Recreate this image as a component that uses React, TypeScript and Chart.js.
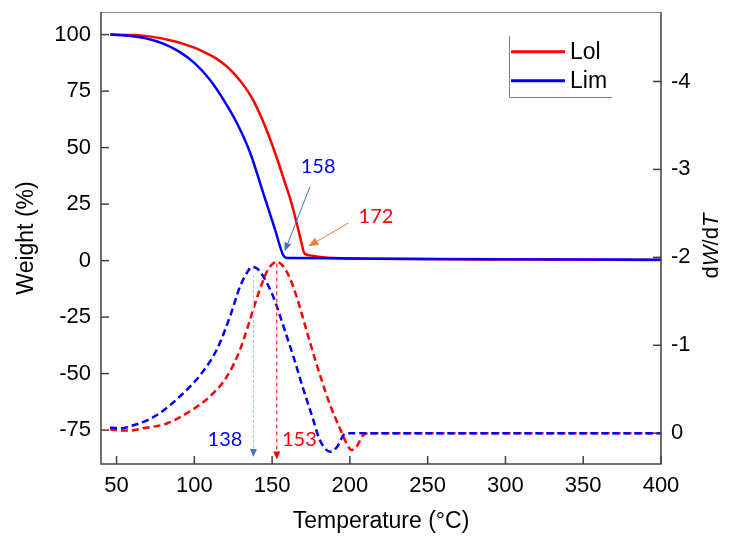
import React, { useEffect, useRef } from 'react';
import { Chart, registerables } from 'chart.js';
Chart.register(...registerables);

// ---- tick labels ----
const xTicks = [50, 100, 150, 200, 250, 300, 350, 400];
const weightTicks = [-75, -50, -25, 0, 25, 50, 75, 100];
const dtgTicks = [0, -1, -2, -3, -4];

// ---- series ----
const seriesNames = ['Lol', 'Lim'];

const lolTemp = [46, 60, 72, 85, 93, 100, 107, 114, 121, 127, 133, 138, 143, 148, 153, 158, 162, 166, 169, 170.5, 172.5, 176, 181, 190, 220, 300, 400];
const lolWeight = [100, 99.8, 99.1, 97.4, 95.9, 94.2, 92.0, 89.5, 85.8, 81.6, 76.3, 70.8, 63.5, 55.0, 45.5, 35.0, 26.5, 16.0, 7.5, 3.5, 2.6, 2.1, 1.6, 1.1, 0.8, 0.5, 0.3];

const limTemp = [46, 60, 70, 80, 90, 100, 110, 120, 128, 136, 144, 152, 157, 159.5, 165, 190, 250, 400];
const limWeight = [100, 99.3, 98.2, 96.0, 92.6, 87.5, 80.0, 69.8, 60.0, 47.5, 30.5, 13.5, 2.6, 1.2, 1.1, 1.0, 0.7, 0.4];

const lolDtgTemp = [45.8, 52.2, 58.6, 67.2, 82.3, 97.2, 110.1, 120.8, 129.4, 134.2, 141.2, 147, 150, 153, 157, 161.5, 165.8, 170, 174.4, 180.8, 187.3, 193.7, 198, 201, 204.4, 208.7, 213, 400];
const lolDtg = [-0.045, -0.03, -0.03, -0.057, -0.11, -0.25, -0.42, -0.64, -0.95, -1.2, -1.59, -1.85, -1.92, -1.95, -1.9, -1.76, -1.55, -1.3, -1.03, -0.66, -0.32, -0.05, 0.12, 0.19, 0.15, 0.02, 0, 0];

const limDtgTemp = [45.8, 52, 60.8, 70, 77.9, 90.8, 103.7, 114.4, 123, 129.4, 133.7, 137, 140.5, 144.4, 150.8, 157.2, 163.7, 170.1, 176.5, 180, 183, 187.3, 191.6, 195.9, 198, 400];
const limDtg = [-0.065, -0.055, -0.09, -0.15, -0.23, -0.42, -0.66, -0.95, -1.33, -1.67, -1.82, -1.89, -1.87, -1.78, -1.55, -1.22, -0.87, -0.5, -0.15, 0.05, 0.15, 0.21, 0.16, 0.02, 0, 0];

// ---- annotations (data coordinates) ----
const peakTemps = [153, 138]; // Lol, Lim (DTG peak)
const endTemps = [172, 158]; // Lol, Lim (end of mass loss)

const RED = '#FF0000';
const BLUE = '#0000FF';
const TICK_FONT = { family: '"Liberation Sans", Arial, sans-serif', size: 22 };
const TITLE_FONT = { family: '"Liberation Sans", Arial, sans-serif', size: 23 };
const NOTE_FONT = '20px Lato, "Open Sans", sans-serif';

const pts = (xs: number[], ys: number[]) => xs.map((x, i) => ({ x, y: ys[i] }));

function arrow(ctx: CanvasRenderingContext2D, x1: number, y1: number, x2: number, y2: number,
  lineColor: string, headColor: string, width: number, headLen: number, headW: number, dash: number[]) {
  ctx.save();
  const a = Math.atan2(y2 - y1, x2 - x1);
  const bx = x2 - headLen * Math.cos(a);
  const by = y2 - headLen * Math.sin(a);
  ctx.strokeStyle = lineColor;
  ctx.lineWidth = width;
  ctx.setLineDash(dash);
  ctx.beginPath();
  ctx.moveTo(x1, y1);
  ctx.lineTo(bx, by);
  ctx.stroke();
  ctx.setLineDash([]);
  ctx.fillStyle = headColor;
  ctx.beginPath();
  ctx.moveTo(x2, y2);
  ctx.lineTo(bx + (headW / 2) * Math.sin(a), by - (headW / 2) * Math.cos(a));
  ctx.lineTo(bx - (headW / 2) * Math.sin(a), by + (headW / 2) * Math.cos(a));
  ctx.closePath();
  ctx.fill();
  ctx.restore();
}

const framePlugin = {
  id: 'frame',
  afterDraw(chart: any) {
    const { ctx, chartArea: ca, scales } = chart;
    ctx.save();
    // inward tick marks
    ctx.strokeStyle = '#404040';
    ctx.lineWidth = 1.5;
    const L = 8;
    scales.x.ticks.forEach((t: any) => {
      const px = scales.x.getPixelForValue(t.value);
      ctx.beginPath(); ctx.moveTo(px, ca.bottom); ctx.lineTo(px, ca.bottom - L); ctx.stroke();
    });
    scales.y.ticks.forEach((t: any) => {
      const py = scales.y.getPixelForValue(t.value);
      ctx.beginPath(); ctx.moveTo(ca.left, py); ctx.lineTo(ca.left + L, py); ctx.stroke();
    });
    scales.y2.ticks.forEach((t: any) => {
      const py = scales.y2.getPixelForValue(t.value);
      ctx.beginPath(); ctx.moveTo(ca.right, py); ctx.lineTo(ca.right - L, py); ctx.stroke();
    });
    // frame
    ctx.strokeStyle = '#8a8a8a';
    ctx.lineWidth = 1;
    ctx.beginPath(); ctx.moveTo(ca.left, ca.top + 0.5); ctx.lineTo(ca.right, ca.top + 0.5); ctx.stroke();
    ctx.strokeStyle = '#404040';
    ctx.lineWidth = 1.5;
    ctx.beginPath();
    ctx.moveTo(ca.left, ca.top); ctx.lineTo(ca.left, ca.bottom); ctx.lineTo(ca.right, ca.bottom); ctx.lineTo(ca.right, ca.top);
    ctx.stroke();

    // right axis title dW/dT (italic W and T), reading bottom-to-top
    const parts: [string, boolean][] = [['d', false], ['W', true], ['/d', false], ['T', true]];
    const fontFor = (it: boolean) => `${it ? 'italic ' : ''}22px "Liberation Sans", Arial, sans-serif`;
    let total = 0;
    parts.forEach(([s, it]) => { ctx.font = fontFor(it); total += ctx.measureText(s).width; });
    ctx.translate(712, 246);
    ctx.rotate(-Math.PI / 2);
    ctx.fillStyle = '#000';
    ctx.textBaseline = 'middle';
    ctx.textAlign = 'left';
    let cx = -total / 2;
    parts.forEach(([s, it]) => { ctx.font = fontFor(it); ctx.fillText(s, cx, 0); cx += ctx.measureText(s).width; });
    ctx.restore();

    // legend
    ctx.save();
    ctx.strokeStyle = '#7f7f7f';
    ctx.lineWidth = 1;
    ctx.beginPath(); ctx.moveTo(509.5, 36); ctx.lineTo(509.5, 97.5); ctx.lineTo(612, 97.5); ctx.stroke();
    ctx.font = '23px "Liberation Sans", Arial, sans-serif';
    ctx.textBaseline = 'middle';
    ctx.textAlign = 'left';
    ctx.fillStyle = '#000';
    const ys = [51.7, 80.7];
    seriesNames.forEach((name, i) => {
      const ds = chart.data.datasets.find((d: any) => d.label === name);
      ctx.strokeStyle = ds.borderColor;
      ctx.lineWidth = 3;
      ctx.beginPath(); ctx.moveTo(511, ys[i]); ctx.lineTo(565, ys[i]); ctx.stroke();
      ctx.fillText(name, 570, ys[i] + 1);
    });
    ctx.restore();
  },
};

const notePlugin = {
  id: 'notes',
  afterDatasetsDraw(chart: any) {
    const { ctx, scales } = chart;
    const X = (v: number) => scales.x.getPixelForValue(v);
    const Y = (v: number) => scales.y.getPixelForValue(v);
    const Y2 = (v: number) => scales.y2.getPixelForValue(v);
    ctx.save();
    // end-of-loss arrows
    arrow(ctx, X(174.4), Y(32.8), X(endTemps[1]), Y(4), '#4472C4', '#4472C4', 1, 9, 7, []);
    arrow(ctx, X(199), Y(16.6), X(173.3), Y(6.3), '#ED7D31', '#ED7D31', 1, 10, 8, []);
    // peak arrows
    arrow(ctx, X(peakTemps[1]), Y2(-1.8), X(peakTemps[1]), Y2(0.27), '#9DC3E6', '#4472C4', 1, 8, 7, [3, 2]);
    arrow(ctx, X(peakTemps[0]), Y2(-1.93), X(peakTemps[0]), Y2(0.3), RED, RED, 1, 8, 7, [4, 3]);
    ctx.font = NOTE_FONT;
    ctx.textAlign = 'center';
    ctx.textBaseline = 'middle';
    ctx.fillStyle = BLUE;
    ctx.fillText(String(endTemps[1]), X(179.6), Y(41.6));
    ctx.fillText(String(peakTemps[1]), X(119.7), Y2(0.07));
    ctx.fillStyle = RED;
    ctx.fillText(String(endTemps[0]), X(216.8), Y(19.5));
    ctx.fillText(String(peakTemps[0]), X(167.5), Y2(0.07));
    ctx.restore();
  },
};

export default function App() {
  const ref = useRef<HTMLCanvasElement>(null);
  useEffect(() => {
    const canvas = ref.current!;
    const common = { pointRadius: 0, borderWidth: 2.5, cubicInterpolationMode: 'monotone' as const, fill: false };
    const noGrid = { display: false, drawTicks: false };
    const vFit = (w: number) => (s: any) => { s.width = w; s.paddingTop = 0; s.paddingBottom = 0; };
    const chart = new Chart(canvas, {
      type: 'line',
      data: {
        datasets: [
          { ...common, label: 'Lim', data: pts(limTemp, limWeight), borderColor: BLUE, yAxisID: 'y', order: 0 },
          { ...common, label: 'Lol', data: pts(lolTemp, lolWeight), borderColor: RED, yAxisID: 'y', order: 1 },
          { ...common, label: 'Lim DTG', data: pts(limDtgTemp, limDtg), borderColor: BLUE, borderDash: [7, 4], yAxisID: 'y2', order: 2 },
          { ...common, label: 'Lol DTG', data: pts(lolDtgTemp, lolDtg), borderColor: RED, borderDash: [7, 4], yAxisID: 'y2', order: 3 },
        ],
      },
      options: {
        responsive: false,
        animation: false,
        devicePixelRatio: 1,
        layout: { padding: { top: 12, left: 0, right: 0, bottom: 0 } },
        plugins: { legend: { display: false }, tooltip: { enabled: false } },
        scales: {
          x: {
            type: 'linear', min: 40, max: 400,
            afterBuildTicks: (s: any) => { s.ticks = xTicks.map((v) => ({ value: v })); },
            afterFit: (s: any) => { s.height = 75; s.paddingLeft = 0; s.paddingRight = 0; },
            grid: noGrid, border: { display: false },
            ticks: { font: TICK_FONT, color: '#000', padding: 9, maxRotation: 0, autoSkip: false, callback: (v: any) => String(v) },
            title: { display: true, text: 'Temperature (°C)', font: TITLE_FONT, color: '#000', padding: { top: 0, bottom: 4 } },
          },
          y: {
            type: 'linear', position: 'left', min: -90, max: 110,
            afterBuildTicks: (s: any) => { s.ticks = weightTicks.map((v) => ({ value: v })); },
            afterFit: vFit(101),
            grid: noGrid, border: { display: false },
            ticks: { font: TICK_FONT, color: '#000', padding: 10, autoSkip: false, callback: (v: any) => String(v) },
            title: { display: true, text: 'Weight (%)', font: TITLE_FONT, color: '#000', padding: { top: 13, bottom: 0 } },
          },
          y2: {
            type: 'linear', position: 'right', min: -4.79, max: 0.35, reverse: true,
            afterBuildTicks: (s: any) => { s.ticks = dtgTicks.map((v) => ({ value: v })); },
            afterFit: vFit(70),
            grid: noGrid, border: { display: false },
            ticks: { font: TICK_FONT, color: '#000', padding: 10, autoSkip: false, callback: (v: any) => String(v) },
          },
        },
      },
      plugins: [notePlugin, framePlugin],
    });
    return () => chart.destroy();
  }, []);
  return (
    <div style={{ position: 'fixed', left: 0, top: 0, width: 731, height: 539, background: '#fff' }}>
      <canvas ref={ref} width={731} height={539} style={{ display: 'block' }} />
    </div>
  );
}
